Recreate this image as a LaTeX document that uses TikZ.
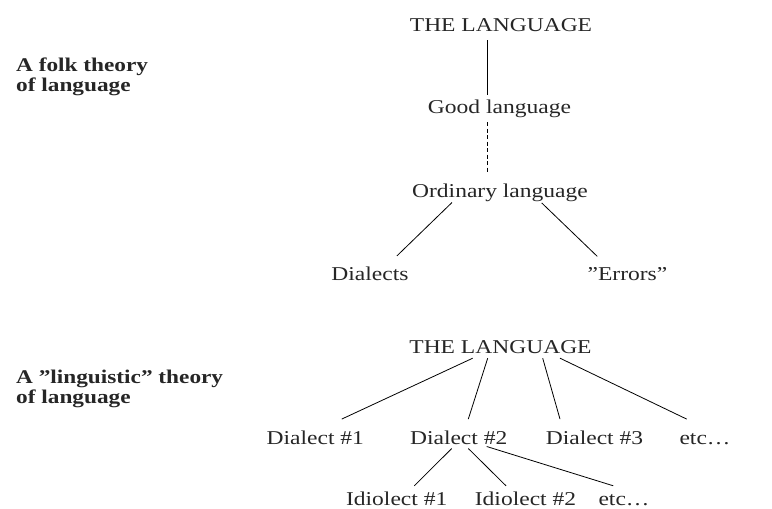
\documentclass[tikz,border=0pt]{standalone}
\usepackage{fontspec}
\setmainfont{Liberation Serif}[FakeStretch=1.2]
\usetikzlibrary{calc}
\begin{document}
\begin{tikzpicture}[%
            x=1pt, y=-1pt,
            word/.style={inner sep=0pt, anchor=base, text height=13.4pt, text depth=4.3pt,
                         text=black!85, font=\fontsize{19.6}{22}\selectfont},
            heading/.style={inner sep=0pt, anchor=base west, align=left,
                         text=black!85, font=\fontsize{19.4}{20}\selectfont\bfseries},
            branch/.style={line width=0.8pt},
            weak/.style={line width=0.8pt, dash pattern=on 4pt off 2.5pt}
        ]
        \useasboundingbox (0,0) rectangle (772,509);
        
        % folk theory
        \node [heading] (folk) at (16,91.7) {A folk theory\\of language};
        \node [word] (lang1) at (501,31) {THE LANGUAGE};
        \node [word] (good) at (499.5,113) {Good language};
        \node [word] (ordinary) at (500,197) {Ordinary language};
        \node [word] (dialects) at (370,280) {Dialects};
        \node [word] (errors) at (627.5,280) {”Errors”};
        
        \draw [branch] ($(lang1.south)+(-14,4.7)$) -- ($(good.north)+(-12.5,-4.6)$);
        \draw [weak] ($(good.south)+(-12.5,4.7)$) -- ($(ordinary.north)+(-13,-10.6)$);
        \draw [branch] ($(ordinary.south)+(-48,1)$) -- ($(dialects.north)+(27,-10.6)$);
        \draw [branch] ($(ordinary.south)+(41.7,1.4)$) -- ($(errors.north)+(-30.2,-10)$);
        
        % linguistic theory
        \node [heading] (linguistic) at (16,403.3) {A ”linguistic” theory\\of language};
        \node [word] (lang2) at (500.5,353) {THE LANGUAGE};
        \node [word] (d1) at (315.3,444) {Dialect \#1};
        \node [word] (d2) at (458.7,444) {Dialect \#2};
        \node [word] (d3) at (594.5,444) {Dialect \#3};
        \node [word] (detc) at (705,444) {etc\dots};
        \node [word] (i1) at (396.7,505) {Idiolect \#1};
        \node [word] (i2) at (525.5,505) {Idiolect \#2};
        \node [word] (ietc) at (624,505) {etc\dots};
        
        \draw [branch] ($(lang2.south)+(-27.8,0.7)$) -- ($(d1.north)+(26.4,-11.3)$);
        \draw [branch] ($(lang2.south)+(-12.8,0.7)$) -- ($(d2.north)+(9.6,-11.3)$);
        \draw [branch] ($(lang2.south)+(42.2,0.7)$) -- ($(d3.north)+(-34.5,-11.3)$);
        \draw [branch] ($(lang2.south)+(59.5,0.7)$) -- ($(detc.north)+(-18.3,-11.3)$);
        
        \draw [branch] ($(d2.south)+(-7,0)$) -- ($(i1.north)+(17.6,-5.6)$);
        \draw [branch] ($(d2.south)+(9.6,0)$) -- ($(i2.north)+(-19.5,-5.6)$);
        \draw [branch] ($(d2.south)+(28,-2)$) -- ($(ietc.north)+(-10.7,-5.6)$);
    \end{tikzpicture}
\end{document}
